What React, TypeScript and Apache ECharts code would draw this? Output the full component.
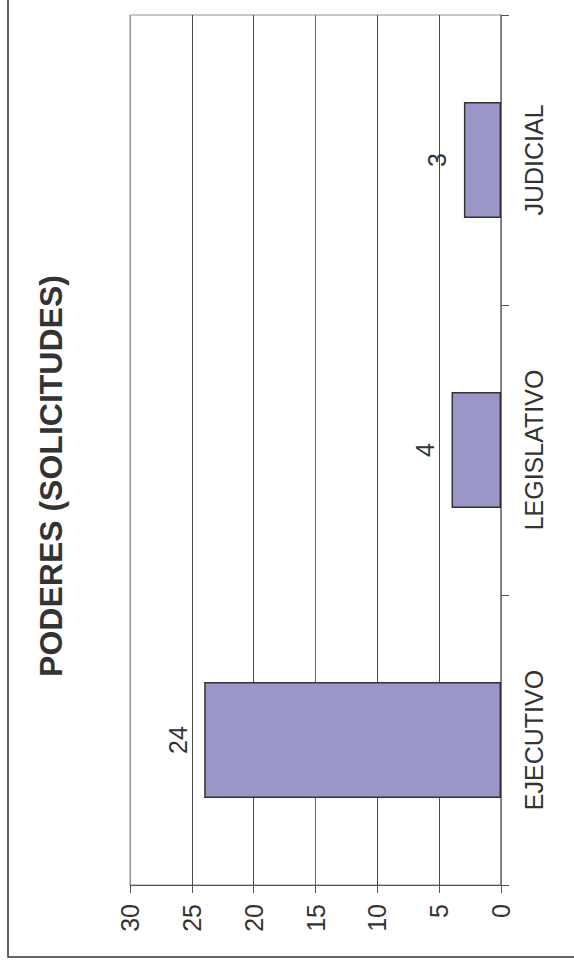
import React, { useEffect, useRef } from "react";
import * as echarts from "echarts";

const categories = ["EJECUTIVO", "LEGISLATIVO", "JUDICIAL"];
const values = [24, 4, 3];
const valueTicks = { min: 0, max: 30, interval: 5 };
const title = "PODERES (SOLICITUDES)";

const FONT = "'Liberation Sans', Arial, sans-serif";

export default function App() {
  const ref = useRef<HTMLDivElement>(null);
  useEffect(() => {
    document.body.style.margin = "0";
    if (!ref.current) return;
    const chart = echarts.init(ref.current, null, { renderer: "svg" });
    chart.setOption({
      animation: false,
      backgroundColor: "#ffffff",
      grid: {
        left: 130,
        right: 73,
        top: 15,
        bottom: 80,
        show: true,
        borderColor: "#9a9090",
        borderWidth: 1,
        containLabel: false,
      },
      xAxis: {
        type: "value",
        inverse: true,
        position: "bottom",
        min: valueTicks.min,
        max: valueTicks.max,
        interval: valueTicks.interval,
        axisLine: { show: true, lineStyle: { color: "#555", width: 1 } },
        axisTick: { show: true, length: 8, lineStyle: { color: "#555" } },
        axisLabel: {
          rotate: 90,
          margin: 19,
          fontSize: 25,
          color: "#333",
          fontFamily: FONT,
        },
        splitLine: {
          show: true,
          lineStyle: {
            color: ["#777", "#4a4a4a", "#4a4a4a", "#6a6a6a", "#4a4a4a", "#4a4a4a", "#9a9090"],
            width: 1,
          },
        },
      },
      yAxis: {
        type: "category",
        position: "right",
        data: categories,
        boundaryGap: true,
        axisLine: { show: true, lineStyle: { color: "#777", width: 1.5 } },
        axisTick: { show: true, length: 8, alignWithLabel: false, lineStyle: { color: "#555" } },
        axisLabel: {
          rotate: 90,
          margin: 20,
          fontSize: 25,
          color: "#333",
          fontFamily: FONT,
        },
        splitLine: { show: false },
      },
      series: [
        {
          type: "bar",
          data: values,
          barWidth: "40%",
          itemStyle: { color: "#9b96c8", borderColor: "#333", borderWidth: 1.5 },
          label: {
            show: true,
            position: "left",
            distance: 14,
            rotate: 90,
            align: "center",
            verticalAlign: "bottom",
            fontSize: 25,
            color: "#333",
            fontFamily: FONT,
          },
        },
      ],
      graphic: [
        {
          type: "rect",
          shape: { x: 8, y: -10, width: 620, height: 967 },
          style: { fill: "none", stroke: "#333", lineWidth: 1.5 },
          silent: true,
        },
        {
          type: "text",
          x: 51,
          y: 476,
          rotation: Math.PI / 2,
          style: {
            text: title,
            font: `bold 32px ${FONT}`,
            fill: "#333",
            align: "center",
            verticalAlign: "middle",
          },
        },
      ],
    });
    return () => chart.dispose();
  }, []);
  return <div ref={ref} style={{ width: 574, height: 965 }} />;
}
